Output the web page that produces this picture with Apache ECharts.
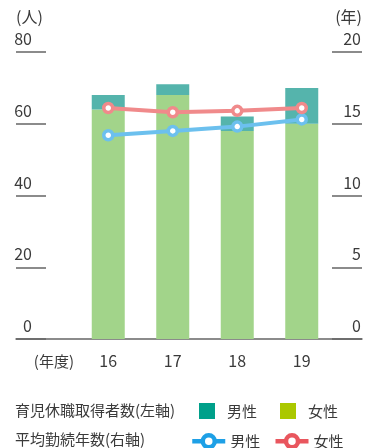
<!DOCTYPE html>
<html>
<head>
<meta charset="utf-8">
<script src="https://cdn.jsdelivr.net/npm/echarts@6/dist/echarts.min.js"></script>
<style>
html,body{margin:0;padding:0;background:#fff;}
#c{width:376px;height:448px;}
</style>
</head>
<body>
<div id="c"></div>
<script>
const categories = ['16', '17', '18', '19'];
const leaveFemale = [64, 68, 58, 60];
const leaveMale = [4, 3, 4, 10];
const tenureMale = [14.2, 14.5, 14.8, 15.3];
const tenureFemale = [16.1, 15.8, 15.9, 16.1];
const leftTicks = { min: 0, max: 80, interval: 20 };
const rightTicks = { min: 0, max: 20, interval: 5 };

const FONT = '"Noto Sans CJK JP", "Noto Sans", sans-serif';
const TXT = '#3a3a3a';
const AX = '#666666';

const chart = echarts.init(document.getElementById('c'), null, { renderer: 'canvas' });

const hiddenAxis = { show: false };

chart.setOption({
  animation: false,
  backgroundColor: '#fff',
  textStyle: { fontFamily: FONT },
  title: [
    { text: '育児休職取得者数(左軸)', left: 15, top: 403, padding: 0, textStyle: { fontSize: 15, fontWeight: 'normal', color: TXT, fontFamily: FONT } },
    { text: '平均勤続年数(右軸)', left: 15, top: 432, padding: 0, textStyle: { fontSize: 15, fontWeight: 'normal', color: TXT, fontFamily: FONT } }
  ],
  legend: [
    {
      left: 199, top: 403, padding: 0, itemWidth: 16, itemHeight: 16, itemGap: 23,
      selectedMode: false, icon: 'rect',
      data: [
        { name: '男性(左軸)', itemStyle: { color: '#00a08a' } },
        { name: '女性(左軸)', itemStyle: { color: '#abc800' } }
      ],
      formatter: n => '{a|' + n.replace('(左軸)', '') + '}',
      textStyle: { fontSize: 15, color: TXT, fontFamily: FONT, rich: { a: { fontSize: 15, color: TXT, fontFamily: FONT, padding: [0, 0, 0, 7] } } }
    },
    {
      left: 190, top: 433, padding: 0, itemWidth: 33, itemHeight: 15, itemGap: 13,
      selectedMode: false,
      data: [
        { name: '男性(右軸)', itemStyle: { color: '#fff', borderColor: '#1ea0e6', borderWidth: 4.5 }, lineStyle: { color: '#1ea0e6', width: 4.5 } },
        { name: '女性(右軸)', itemStyle: { color: '#fff', borderColor: '#e9565e', borderWidth: 4.5 }, lineStyle: { color: '#e9565e', width: 4.5 } }
      ],
      formatter: n => n.replace('(右軸)', ''),
      textStyle: { fontSize: 15, color: TXT, fontFamily: FONT }
    }
  ],
  grid: [
    { left: 76, right: 42, top: 52, bottom: 109 },
    { left: 16, right: 14, top: 52, bottom: 109 }
  ],
  xAxis: [
    {
      type: 'category', gridIndex: 0, data: categories,
      axisLine: { show: false }, axisTick: { show: false },
      axisLabel: { fontSize: 16, color: TXT, margin: 14, fontFamily: FONT },
      name: '(年度)', nameLocation: 'start', nameGap: 2,
      nameTextStyle: { fontSize: 15, color: TXT, fontFamily: FONT, verticalAlign: 'top', padding: [15, 0, 0, 0] }
    },
    {
      type: 'value', gridIndex: 1, min: 0, max: 1,
      axisLine: { show: true, lineStyle: { color: AX, width: 1.5 } },
      axisTick: { show: false }, axisLabel: { show: false }, splitLine: { show: false }
    }
  ],
  yAxis: [
    {
      type: 'value', gridIndex: 1, position: 'left', ...leftTicks,
      axisLine: { show: false },
      axisTick: { show: true, inside: true, length: 30, lineStyle: { color: AX, width: 1.5 } },
      axisLabel: { inside: true, margin: 16, align: 'right', verticalAlign: 'bottom', lineHeight: 16, padding: [0, 0, 5, 0], fontSize: 16, color: TXT, fontFamily: FONT },
      splitLine: { show: false },
      name: '(人)', nameLocation: 'end', nameGap: 27,
      nameTextStyle: { align: 'left', fontSize: 16, color: TXT, fontFamily: FONT }
    },
    {
      type: 'value', gridIndex: 1, position: 'right', ...rightTicks,
      axisLine: { show: false },
      axisTick: { show: true, inside: true, length: 30, lineStyle: { color: AX, width: 1.5 } },
      axisLabel: { inside: true, margin: 1, align: 'right', verticalAlign: 'bottom', lineHeight: 16, padding: [0, 0, 5, 0], fontSize: 16, color: TXT, fontFamily: FONT },
      splitLine: { show: false },
      name: '(年)', nameLocation: 'end', nameGap: 27,
      nameTextStyle: { align: 'right', fontSize: 16, color: TXT, fontFamily: FONT }
    },
    { type: 'value', gridIndex: 0, ...leftTicks, ...hiddenAxis },
    { type: 'value', gridIndex: 0, ...rightTicks, ...hiddenAxis }
  ],
  series: [
    {
      name: '女性(左軸)', type: 'bar', xAxisIndex: 0, yAxisIndex: 2, stack: 'leave',
      barWidth: 33, data: leaveFemale, itemStyle: { color: '#a2d48a' }
    },
    {
      name: '男性(左軸)', type: 'bar', xAxisIndex: 0, yAxisIndex: 2, stack: 'leave',
      barWidth: 33, data: leaveMale, itemStyle: { color: '#55b4ac' }
    },
    {
      name: '男性(右軸)', type: 'line', xAxisIndex: 0, yAxisIndex: 3, data: tenureMale,
      symbol: 'circle', symbolSize: 9, z: 5,
      lineStyle: { color: '#6cc0ee', width: 4 },
      itemStyle: { color: '#fff', borderColor: '#6cc0ee', borderWidth: 3.5 }
    },
    {
      name: '女性(右軸)', type: 'line', xAxisIndex: 0, yAxisIndex: 3, data: tenureFemale,
      symbol: 'circle', symbolSize: 9, z: 5,
      lineStyle: { color: '#f08a8b', width: 4 },
      itemStyle: { color: '#fff', borderColor: '#f08a8b', borderWidth: 3.5 }
    }
  ]
});
</script>
</body>
</html>
